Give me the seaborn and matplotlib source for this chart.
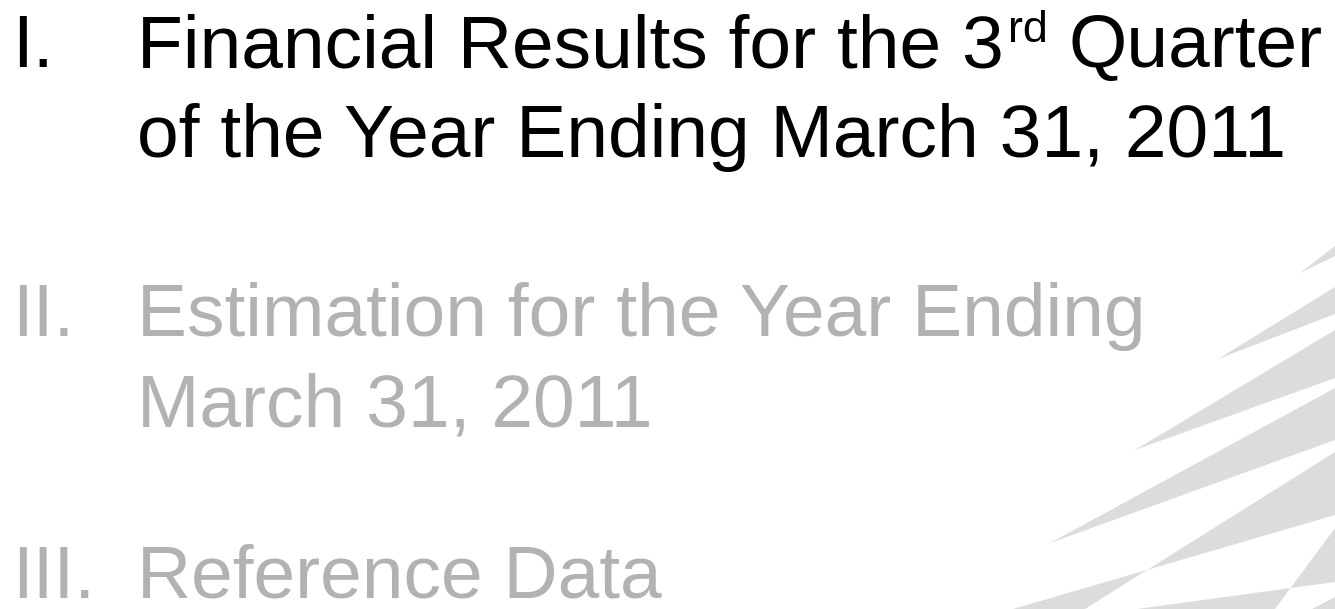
import matplotlib
matplotlib.use("Agg")
import matplotlib.pyplot as plt
import seaborn as sns

# section numbers / titles (one entry per text line)
numerals = ["I.", "", "II.", "", "III."]
title_lines = ["Financial Results for the 3", "of the Year Ending March 31, 2011",
               "Estimation for the Year Ending", "March 31, 2011", "Reference Data"]
line_baselines = [67, 157, 336, 426, 598]
line_colors = ["#000000", "#000000", "#b2b2b2", "#b2b2b2", "#b2b2b2"]
superscript = "rd"
after_super = "Quarter"

# decorative stripes on the right (pixel corners, y down)
stripe_x = [[1335, 1335, 1300], [1335, 1335, 1218], [1335, 1335, 1135], [1335, 1335, 1050],
            [1335, 1335, 1013, 1085], [1335, 1335, 1137, 1275], [1335, 1335, 1312]]
stripe_y = [[246, 256, 273], [287, 314, 359], [330, 378, 450], [388, 440, 543],
            [452, 515, 609, 609], [528, 582, 609, 609], [597, 609, 609]]

sns.set_theme(style="white")
plt.rcParams['font.family'] = ['Liberation Sans', 'DejaVu Sans']

W, H = 1335, 609
fig = plt.figure(figsize=(W / 100, H / 100), dpi=100)
ax = fig.add_axes([0, 0, 1, 1])
ax.set_xlim(0, W)
ax.set_ylim(H, 0)
ax.axis('off')

for xs, ys in zip(stripe_x, stripe_y):
    ax.fill(xs, ys, color="#dcdcdc", lw=0, zorder=0)

fs = 54
num_x = 12
title_x = 137
for num, line, y, c in zip(numerals, title_lines, line_baselines, line_colors):
    if num:
        ax.text(num_x, y, num, fontsize=fs, color=c, va='baseline', ha='left')
    ax.text(title_x, y, line, fontsize=fs, color=c, va='baseline', ha='left')

# superscript "rd" and the rest of the first line
fig.canvas.draw()
r = fig.canvas.get_renderer()
first = ax.texts[1]
bb = first.get_window_extent(r)
inv = ax.transData.inverted()
x_end = inv.transform((bb.x1, bb.y0))[0]
sup = ax.text(x_end + 4, line_baselines[0] - 25, superscript, fontsize=fs * 0.6,
              color=line_colors[0], va='baseline', ha='left')
fig.canvas.draw()
bb2 = sup.get_window_extent(r)
x_end2 = inv.transform((bb2.x1, bb2.y0))[0]
ax.text(x_end2 + fs * 1.389 * 0.278, line_baselines[0], after_super, fontsize=fs,
        color=line_colors[0], va='baseline', ha='left')

fig.savefig("out.png", dpi=100, facecolor="white")
